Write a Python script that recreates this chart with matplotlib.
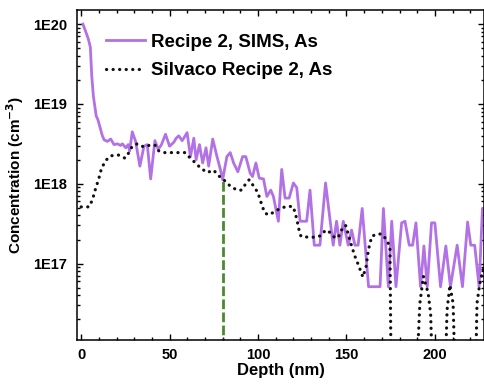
"""
SIMS vs Silvaco arsenic profile, recipe 2
"""

import matplotlib
matplotlib.use('Agg')
import matplotlib.pyplot as plt
from matplotlib.ticker import LogLocator, FixedLocator, MultipleLocator, FuncFormatter
import numpy as np

plt.rcParams['font.family'] = ['Liberation Sans', 'DejaVu Sans']
plt.rcParams['font.weight'] = 'bold'

# SIMS profile: depth (nm), log10 concentration (cm^-3)
sims_depth = [1, 3, 4.1, 5.2, 6, 6.9, 8.5, 9.5, 10.5, 12, 13, 14.8, 16.7, 18.6, 20.5,
              22.3, 23.3, 25.2, 26.6, 27.4, 28.9, 30.8, 33.2, 35.5, 37.4, 39.3, 41.7,
              43.6, 45.4, 47.7, 50, 52.4, 53.7, 55.2, 57.1, 58, 59.9, 61.8, 63.7, 65,
              66.9, 68.7, 70.6, 72.1, 74.4, 76.8, 78.7, 80, 82.4, 84.3, 86.2, 88.6,
              91.3, 93.1, 95.6, 96.9, 98.8, 100.7, 103.1, 105, 107.2, 108.7, 111.5,
              113.4, 115.3, 117.6, 120, 121.9, 123.8, 127.5, 129.4, 131.8, 135, 138.2,
              140.7, 142.5, 144.4, 146.3, 148.2, 151, 152.9, 154.8, 156.6, 158.9,
              162.5, 169, 170.9, 173.7, 175.6, 178, 181.2, 183.1, 185.5, 187.4, 189.3,
              191.9, 193.8, 195.7, 198.1, 200, 203.2, 206.2, 208.8, 212.6, 215.6,
              218.5, 220.3, 222.5, 225, 226.9, 228]
sims_log = [20.0, 19.88, 19.81, 19.71, 19.35, 19.1, 18.85, 18.8, 18.72, 18.6, 18.55,
            18.53, 18.56, 18.49, 18.50, 18.48, 18.50, 18.45, 18.49, 18.41, 18.65, 18.53,
            18.22, 18.47, 18.49, 18.06, 18.54, 18.43, 18.49, 18.62, 18.47, 18.52, 18.57,
            18.60, 18.54, 18.57, 18.64, 18.34, 18.57, 18.30, 18.49, 18.26, 18.45, 18.22,
            18.56, 18.34, 18.18, 18.05, 18.34, 18.39, 18.26, 18.15, 18.34, 18.34, 18.13,
            18.09, 18.26, 18.07, 18.06, 17.84, 17.92, 17.84, 17.53, 18.18, 17.82, 17.82,
            18.01, 17.95, 17.53, 17.53, 17.92, 17.23, 17.23, 18.01, 17.55, 17.23, 17.53,
            17.23, 17.53, 17.23, 17.42, 17.23, 17.23, 17.69, 16.71, 16.71, 17.69, 16.71,
            17.53, 16.71, 17.51, 17.53, 17.23, 17.23, 17.51, 16.71, 17.22, 16.71, 17.51,
            17.51, 16.71, 17.22, 16.71, 17.23, 16.71, 17.52, 17.23, 17.23, 16.71, 17.69,
            17.69]

# Silvaco simulation: depth (nm), log10 concentration (cm^-3)
silv_depth = [0, 4.5, 6.4, 8.3, 9.8, 11.6, 14.3, 16.7, 21, 24.8, 27, 28.9, 31.7, 35.5,
              39.8, 42, 43.9, 47.3, 51.1, 54.8, 58.6, 61.8, 64.6, 67.4, 71.2, 74.9,
              77.7, 80.6, 84.3, 88.1, 90.5, 92.8, 95, 97.5, 99.9, 101.2, 102.5, 104,
              106.3, 109.3, 112.5, 116.8, 120, 121.9, 123.2, 124.3, 128.5, 132.6, 135.6,
              138.2, 140.7, 143.5, 145.4, 147.2, 149.5, 151, 152.5, 154.8, 156.8, 159.3,
              161.1, 162.4, 164.3, 167.1, 170, 172.6, 174.6, 175.5, 188.5, 191.5, 193.5,
              196.2, 197.6, 199.5, 205, 206.9, 208.5, 210.3, 212.2, 222.5, 223.8, 225.4,
              228]
silv_log = [17.71, 17.71, 17.80, 17.95, 18.05, 18.20, 18.30, 18.35, 18.36, 18.32, 18.39,
            18.47, 18.50, 18.46, 18.49, 18.48, 18.41, 18.39, 18.39, 18.39, 18.39, 18.32,
            18.26, 18.20, 18.14, 18.17, 18.10, 18.05, 17.97, 17.92, 17.92, 17.99, 18.05,
            17.97, 17.89, 17.80, 17.71, 17.63, 17.61, 17.65, 17.69, 17.72, 17.71, 17.56,
            17.42, 17.34, 17.33, 17.33, 17.35, 17.42, 17.39, 17.32, 17.33, 17.42, 17.48,
            17.37, 17.25, 17.09, 16.98, 16.83, 16.96, 17.17, 17.34, 17.37, 17.37, 17.30,
            17.21, 15.0, 15.0, 16.5, 16.84, 16.63, 16.37, 15.0, 15.0, 16.42, 16.73, 16.5,
            15.0, 15.0, 16.5, 16.75, 17.0]

# junction marker
junction_depth = 80
junction_conc = 1.1e18

fig = plt.figure(figsize=(4.84, 3.86), dpi=100)
ax = fig.add_axes([0.160, 0.119, 0.839, 0.855])

ax.plot(sims_depth, 10 ** np.array(sims_log), '-', color='#b271e4', lw=2.0,
        label='Recipe 2, SIMS, As')
ax.plot(silv_depth, 10 ** np.array(silv_log), color='#111111', lw=2.3,
        linestyle=(0, (0.05, 2.0)), dash_capstyle='round',
        label='Silvaco Recipe 2, As')
ax.plot([junction_depth, junction_depth], [1e15, junction_conc], color='#4b8a2e',
        lw=2.0, linestyle=(0, (3.5, 1.2)))

ax.set_yscale('log')
ax.set_xlim(-2.1, 227.5)
ax.set_ylim(1.1e16, 1.5e20)

ax.xaxis.set_major_locator(MultipleLocator(50))
ax.xaxis.set_minor_locator(MultipleLocator(10))
ax.yaxis.set_major_locator(FixedLocator([1e17, 1e18, 1e19, 1e20]))
ax.yaxis.set_minor_locator(LogLocator(base=10, subs=np.arange(2, 10)))
ax.yaxis.set_major_formatter(FuncFormatter(lambda v, p: '1E%d' % round(np.log10(v))))

ax.tick_params(which='both', direction='in', top=True, right=True, width=1.0)
ax.tick_params(which='major', length=4.5, labelsize=10.5)
ax.tick_params(which='minor', length=2.2)
ax.tick_params(axis='y', which='major', pad=7.5)
ax.tick_params(axis='x', which='major', pad=5.5)
for s in ax.spines.values():
    s.set_linewidth(1.1)

ax.set_xlabel('Depth (nm)', fontsize=12, fontweight='bold', labelpad=1)
ax.set_ylabel('Concentration (cm$^{\\mathbf{-3}}$)', fontsize=11, fontweight='bold', labelpad=5)

ax.legend(loc='upper left', bbox_to_anchor=(0.06, 0.94), frameon=False,
          fontsize=13.5, handlelength=2.1, handletextpad=0.3, labelspacing=0.6,
          borderpad=0.2, borderaxespad=0)

fig.savefig('out.png', dpi=100)
